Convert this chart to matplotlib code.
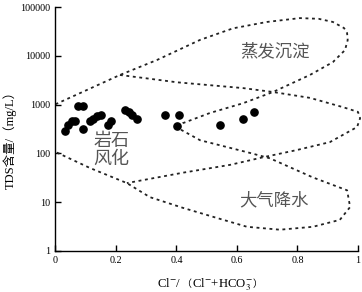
import numpy as np
import matplotlib
matplotlib.use("Agg")
import matplotlib.pyplot as plt

plt.rcParams['font.family'] = ['Liberation Serif', 'Noto Sans CJK SC', 'DejaVu Serif']
plt.rcParams['mathtext.fontset'] = 'stix'

# ---- data ----
ratio = [0.031, 0.040, 0.054, 0.064, 0.073, 0.092, 0.092, 0.114, 0.124, 0.136,
         0.150, 0.175, 0.183, 0.230, 0.243, 0.254, 0.268, 0.362, 0.409, 0.401,
         0.544, 0.621, 0.657]
tds = [283, 387, 454, 467, 923, 923, 320, 454, 506, 575,
       621, 387, 454, 785, 705, 621, 513, 603, 621, 358,
       376, 513, 705]

# outer Gibbs boundary (x, TDS)
outer_x = [0.0, 0.213, 0.336, 0.478, 0.587, 0.699, 0.808, 0.87, 0.917, 0.954, 0.964,
           0.966, 0.957, 0.917, 0.841, 0.719, 0.620, 0.511, 0.421, 0.405,
           0.478, 0.643, 0.709, 0.851, 0.964, 0.974, 0.940, 0.851, 0.742,
           0.633, 0.534, 0.421, 0.312, 0.236, 0.114, 0.0]
outer_y = [1020, 4070, 8300, 21400, 37000, 50000, 60000, 58000, 50000, 37400, 29500,
           21200, 13200, 7480, 4070, 1820, 1070, 676, 417, 330,
           186, 102, 79, 32, 17.4, 7.9, 4.3, 3.1, 2.7,
           3.1, 4.7, 7.6, 12.6, 24.5, 50, 107]
# inner boundary
inner_x = [0.213, 0.289, 0.402, 0.511, 0.620, 0.719, 0.841, 0.950, 1.0, 1.007,
           0.997, 0.907, 0.798, 0.686, 0.577, 0.421, 0.236]
inner_y = [4070, 3550, 2880, 2510, 2190, 1820, 1380, 890, 710, 525,
           347, 170, 117, 83, 58, 40, 24.5]

xticks = [0, 0.2, 0.4, 0.6, 0.8, 1]
xticklabels = ['0', '0.2', '0.4', '0.6', '0.8', '1']
yticks = [1, 10, 100, 1000, 10000, 100000]
yticklabels = ['1', '10', '100', '1000', '10000', '100000']

fig = plt.figure(figsize=(3.62, 2.92), dpi=100)
ax = fig.add_axes([0.1533, 0.1414, 0.8356, 0.8336])
ax.set_yscale('log')
ax.set_xlim(0, 1)
ax.set_ylim(1, 100000)

ls = (0, (1.6, 2.0))
ax.plot(outer_x, outer_y, color='#222222', lw=1.3, ls=ls, clip_on=False)
ax.plot(inner_x, inner_y, color='#222222', lw=1.3, ls=ls, clip_on=False)
ax.plot(ratio, tds, 'o', color='black', ms=5.2, mec='black', clip_on=False)

for s in ['top', 'right']:
    ax.spines[s].set_visible(False)
for s in ['left', 'bottom']:
    ax.spines[s].set_linewidth(1.0)
ax.set_xticks(xticks)
ax.set_xticklabels(xticklabels)
ax.set_yticks(yticks)
ax.set_yticklabels(yticklabels)
ax.minorticks_off()
ax.tick_params(direction='in', length=4, width=1.0, labelsize=7.3, pad=4)

cjk = ['Noto Sans CJK SC', 'DejaVu Sans']
ax.text(0.185, 118, '岩石\n风化', fontsize=13, family=cjk, color='#555555',
        ha='center', va='center', linespacing=1.0, fontweight='light')
ax.text(0.726, 12600, '蒸发沉淀', fontsize=12.5, family=cjk, color='#555555',
        ha='center', va='center', fontweight='light')
ax.text(0.722, 11, '大气降水', fontsize=12.5, family=cjk, color='#555555',
        ha='center', va='center', fontweight='light')

fig.text(10 / 362, 1 - 137 / 292, 'TDS含量/（mg/L）', rotation=90, fontsize=9,
         ha='center', va='center')

# x label assembled from pieces so the full-width brackets render
xl_parts = ['Cl$^{-}$/', '（', 'Cl$^{-}$+HCO$_3^{-}$', '）']
base_y = 1 - 287 / 292
prev = fig.text(157 / 362, base_y, xl_parts[0], fontsize=9.2, ha='left', va='baseline')
for part in xl_parts[1:]:
    if part in ('（', '）'):
        kw = dict(family=cjk, fontsize=7.2)
    else:
        kw = dict(fontsize=9.2)
    prev = fig.add_artist(plt.Annotation(part, xy=(1, base_y),
                                         xycoords=(prev, 'figure fraction'),
                                         ha='left', va='baseline', **kw))

fig.savefig('out.png', dpi=100)
